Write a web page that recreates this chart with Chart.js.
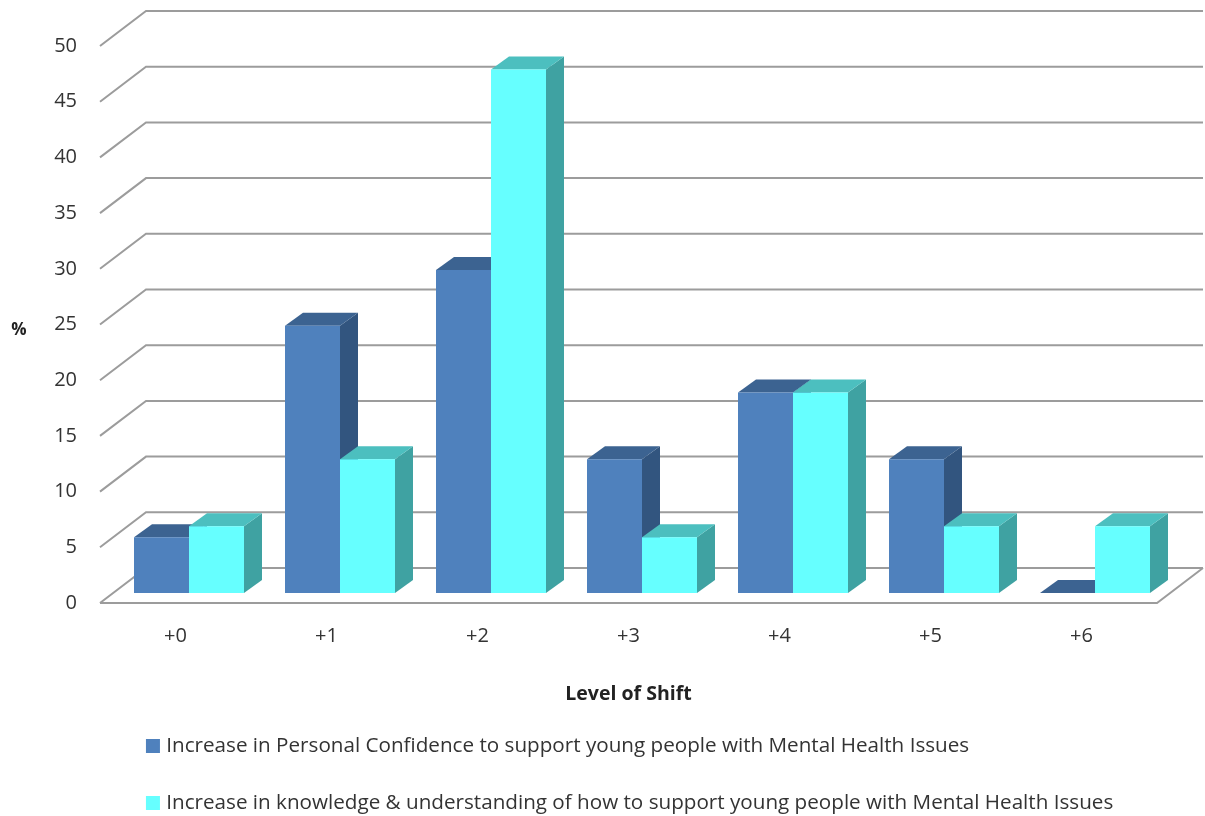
<!DOCTYPE html>
<html>
<head>
<meta charset="utf-8">
<title>Level of Shift</title>
<script src="https://cdn.jsdelivr.net/npm/chart.js@4"></script>
<style>
    body { margin: 0; background: #ffffff; }
    canvas { display: block; }
</style>
</head>
<body>
<canvas id="shiftChart" width="1205" height="816"></canvas>
<script>
// Chart data
const levels = ["+0", "+1", "+2", "+3", "+4", "+5", "+6"];
const confidenceValues = [5, 24, 29, 12, 18, 12, 0];
const knowledgeValues = [6, 12, 47, 5, 18, 6, 6];
const confidenceLabel = "Increase in Personal Confidence to support young people with Mental Health Issues";
const knowledgeLabel = "Increase in knowledge & understanding of how to support young people with Mental Health Issues";

// Fake 3D config
const fontFamily = "'Open Sans', sans-serif";
const wallDepth = { x: 46, y: -35 };
const barShift = { x: 13.5, y: -10 };
const barDepth = { x: 18, y: -13 };
const gridColor = "#9c9c9c";
const faceColors = [
    { top: "#3c6391", side: "#32557f" },
    { top: "#4cbfbf", side: "#3fa2a2" },
];

function fillFace(ctx, points, color) {
    ctx.fillStyle = color;
    ctx.beginPath();
    points.forEach((p, i) => (i === 0 ? ctx.moveTo(p[0], p[1]) : ctx.lineTo(p[0], p[1])));
    ctx.closePath();
    ctx.fill();
}

// Draws the back wall, the floor and the side wall lines from the y scale ticks
const wallsPlugin = {
    id: "walls",
    beforeDatasetsDraw(chart) {
        const { ctx, chartArea, scales } = chart;
        const { left, right, bottom } = chartArea;
        ctx.save();
        ctx.strokeStyle = gridColor;
        ctx.lineWidth = 2;
        scales.y.ticks.forEach(tick => {
            const y = scales.y.getPixelForValue(tick.value);
            ctx.beginPath();
            ctx.moveTo(left, y);
            ctx.lineTo(left + wallDepth.x, y + wallDepth.y);
            ctx.lineTo(right + wallDepth.x, y + wallDepth.y);
            ctx.stroke();
        });
        // Front and right edge of the floor
        ctx.beginPath();
        ctx.moveTo(left, bottom);
        ctx.lineTo(right, bottom);
        ctx.lineTo(right + wallDepth.x, bottom + wallDepth.y);
        ctx.stroke();
        ctx.restore();
    },
};

// Draws the bars in dataset order with top and side faces, moved back from the front plane.
// Chart.js paints the first dataset last, but here the second one has to overlap the first.
const barFacesPlugin = {
    id: "barFaces",
    beforeDatasetsDraw(chart) {
        const { ctx } = chart;
        ctx.save();
        ctx.translate(barShift.x, barShift.y);
        faceColors.forEach((colors, index) => {
            chart.getDatasetMeta(index).data.forEach(bar => {
                const l = bar.x - bar.width / 2;
                const r = bar.x + bar.width / 2;
                const dx = barDepth.x;
                const dy = barDepth.y;
                fillFace(ctx, [[r, bar.y], [r + dx, bar.y + dy], [r + dx, bar.base + dy], [r, bar.base]], colors.side);
                fillFace(ctx, [[l, bar.y], [l + dx, bar.y + dy], [r + dx, bar.y + dy], [r, bar.y]], colors.top);
                bar.draw(ctx);
            });
        });
        ctx.restore();
        return false;
    },
};

// Moves the legend under the axis title and writes the flat % label
const placementPlugin = {
    id: "placement",
    afterLayout(chart) {
        chart.legend.left = 113.6;
        chart.legend.top = 699.2;
    },
    afterDraw(chart) {
        const { ctx } = chart;
        ctx.save();
        ctx.font = "bold 17px " + fontFamily;
        ctx.fillStyle = "#222222";
        ctx.textAlign = "center";
        ctx.textBaseline = "middle";
        ctx.fillText("%", 19, 330);
        ctx.restore();
    },
};

new Chart(document.getElementById("shiftChart"), {
    type: "bar",
    data: {
        labels: levels,
        datasets: [
            { label: confidenceLabel, data: confidenceValues, backgroundColor: "#4f81bd", borderWidth: 0 },
            { label: knowledgeLabel, data: knowledgeValues, backgroundColor: "#66ffff", borderWidth: 0 },
        ],
    },
    options: {
        responsive: false,
        animation: false,
        layout: { padding: { top: 46, right: 48, bottom: 0, left: 0 } },
        datasets: { bar: { categoryPercentage: 110 / 151, barPercentage: 1 } },
        scales: {
            x: {
                grid: { display: false, drawTicks: false },
                border: { display: false },
                ticks: { color: "#333333", font: { family: fontFamily, size: 20 }, padding: 21, maxRotation: 0 },
                title: {
                    display: true,
                    text: "Level of Shift",
                    color: "#222222",
                    font: { family: fontFamily, size: 19.5, weight: "bold" },
                    padding: 0,
                },
                afterFit(scale) {
                    scale.height = 103;
                    scale.paddingLeft = 0;
                    scale.paddingRight = 0;
                },
            },
            y: {
                min: 0,
                max: 50,
                grid: { display: false, drawTicks: false },
                border: { display: false },
                ticks: { stepSize: 5, color: "#333333", font: { family: fontFamily, size: 20 }, padding: 23 },
                afterFit(scale) {
                    scale.width = 100;
                    scale.paddingTop = 0;
                    scale.paddingBottom = 0;
                },
            },
        },
        plugins: {
            tooltip: { enabled: false },
            legend: {
                position: "bottom",
                align: "start",
                maxHeight: 110,
                labels: {
                    usePointStyle: true,
                    pointStyle: "rect",
                    boxWidth: 6,
                    boxHeight: 14,
                    padding: 36.35,
                    color: "#333333",
                    font: { family: fontFamily, size: 20.65 },
                },
            },
        },
    },
    plugins: [wallsPlugin, barFacesPlugin, placementPlugin],
});
</script>
</body>
</html>
